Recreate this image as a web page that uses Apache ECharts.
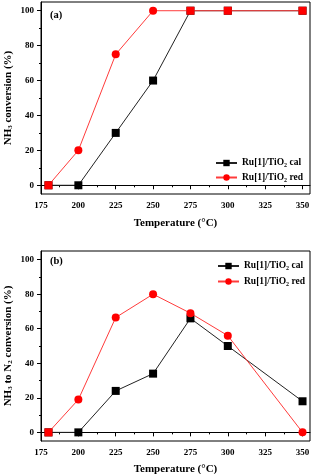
<!DOCTYPE html>
<html>
<head>
<meta charset="utf-8">
<script src="https://cdn.jsdelivr.net/npm/echarts@6/dist/echarts.min.js"></script>
<style>
  html, body { margin: 0; padding: 0; background: #fff; }
  #chart { width: 314px; height: 474px; }
</style>
</head>
<body>
<div id="chart"></div>
<script>
var temps = [180, 200, 225, 250, 275, 300, 350];
var convCal = [0, 0, 30, 60, 100, 100, 100];
var convRed = [0, 20, 75, 100, 100, 100, 100];
var n2Cal = [0, 0, 24, 34, 66, 50, 18];
var n2Red = [0, 19, 66.5, 80, 69, 56, 0];
var xTicks = [175, 200, 225, 250, 275, 300, 325, 350];
var xMinor = [187.5, 212.5, 237.5, 262.5, 287.5, 312.5, 337.5];
var yTicks = [0, 20, 40, 60, 80, 100];
var yMinor = [10, 30, 50, 70, 90];
var nameCal = 'Ru[1]/TiO2 cal';
var nameRed = 'Ru[1]/TiO2 red';

window.onload = function () {
  var font = 'Liberation Serif';
  var rich = {
    n: { fontFamily: font, fontWeight: 'bold', color: '#000', fontSize: 11, lineHeight: 12 },
    s: { fontFamily: font, fontWeight: 'bold', color: '#000', fontSize: 7, lineHeight: 7, verticalAlign: 'bottom' }
  };
  var legRich = {
    n: { fontFamily: font, fontWeight: 'bold', color: '#000', fontSize: 9.5, lineHeight: 11 },
    s: { fontFamily: font, fontWeight: 'bold', color: '#000', fontSize: 6, lineHeight: 6, verticalAlign: 'bottom' }
  };

  function pairs(ys) {
    return temps.map(function (t, i) { return [t, ys[i]]; });
  }
  // red marker drawn as square where it sits on a black one
  function redPairs(ys, other) {
    return temps.map(function (t, i) {
      var d = { value: [t, ys[i]] };
      if (ys[i] === other[i]) d.symbol = 'rect';
      return d;
    });
  }

  function xMain(gi, gap) {
    return {
      type: 'value', gridIndex: gi, min: 175, max: 355, position: 'bottom',
      name: 'Temperature (°C)', nameLocation: 'middle', nameGap: gap,
      nameTextStyle: { fontFamily: font, fontWeight: 'bold', fontSize: 11, color: '#000' },
      axisLine: { lineStyle: { color: '#000', width: 1 } },
      axisTick: { customValues: xTicks, length: 4, lineStyle: { color: '#000' } },
      axisLabel: { customValues: xTicks, margin: 7, fontFamily: font, fontWeight: 'bold', fontSize: 9, color: '#000' },
      splitLine: { show: false }
    };
  }
  function xMinorAxis(gi) {
    return {
      type: 'value', gridIndex: gi, min: 175, max: 355, position: 'bottom',
      axisLine: { show: false },
      axisTick: { customValues: xMinor, length: 2, lineStyle: { color: '#000' } },
      axisLabel: { show: false },
      splitLine: { show: false }
    };
  }
  function yMain(gi, title) {
    return {
      type: 'value', gridIndex: gi, min: -5, max: 105, position: 'left',
      name: title, nameLocation: 'middle', nameGap: 27, nameRotate: 90,
      nameMoveOverlap: false,
      nameTextStyle: { rich: rich },
      axisLine: { show: true, lineStyle: { color: '#000', width: 1 } },
      axisTick: { show: true, customValues: yTicks, length: 4, lineStyle: { color: '#000' } },
      axisLabel: { customValues: yTicks, margin: 7, fontFamily: font, fontWeight: 'bold', fontSize: 9, color: '#000' },
      splitLine: { show: false }
    };
  }
  function yMinorAxis(gi) {
    return {
      type: 'value', gridIndex: gi, min: -5, max: 105, position: 'left',
      axisLine: { show: false },
      axisTick: { show: true, customValues: yMinor, length: 2, lineStyle: { color: '#000' } },
      axisLabel: { show: false },
      splitLine: { show: false }
    };
  }

  function calSeries(xi, data) {
    return {
      name: nameCal, type: 'line', xAxisIndex: xi, yAxisIndex: xi,
      data: pairs(data), symbol: 'rect', symbolSize: 8,
      lineStyle: { color: '#222', width: 1 },
      itemStyle: { color: '#000' }, z: 2
    };
  }
  function redSeries(xi, data, other) {
    return {
      name: nameRed, type: 'line', xAxisIndex: xi, yAxisIndex: xi,
      data: redPairs(data, other), symbol: 'circle', symbolSize: 8,
      lineStyle: { color: '#ff3b3b', width: 1 },
      itemStyle: { color: '#ff0000' }, z: 3
    };
  }

  function legendFmt(name) {
    var parts = name.split('TiO2');
    return '{n|' + parts[0] + 'TiO}{s|2}{n|' + parts[1] + '}';
  }

  var option = {
    animation: false,
    backgroundColor: '#fff',
    grid: [
      { left: 41, top: 2, width: 269, height: 192, outerBoundsMode: 'none', show: true, borderColor: '#000', borderWidth: 1 },
      { left: 41, top: 251, width: 269, height: 190, outerBoundsMode: 'none', show: true, borderColor: '#000', borderWidth: 1 }
    ],
    xAxis: [xMain(0, 24), xMain(1, 23), xMinorAxis(0), xMinorAxis(1)],
    yAxis: [
      yMain(0, '{n|NH}{s|3}{n| conversion (%)}'),
      yMain(1, '{n|NH}{s|3}{n| to N}{s|2}{n| conversion (%)}'),
      yMinorAxis(0), yMinorAxis(1)
    ],
    legend: [
      {
        data: [nameCal, nameRed], orient: 'vertical', left: 210, top: 153,
        itemWidth: 21, itemHeight: 8, itemGap: 4, formatter: legendFmt,
        textStyle: { rich: legRich }
      },
      {
        data: [nameCal, nameRed], orient: 'vertical', left: 212, top: 256,
        itemWidth: 21, itemHeight: 8, itemGap: 5, formatter: legendFmt,
        textStyle: { rich: legRich }
      }
    ],
    graphic: [
      { type: 'text', left: 50, top: 10, style: { text: '(a)', font: 'bold 10.5px "Liberation Serif"', fill: '#000' } },
      { type: 'text', left: 50, top: 256, style: { text: '(b)', font: 'bold 10.5px "Liberation Serif"', fill: '#000' } }
    ],
    series: [
      calSeries(0, convCal),
      redSeries(0, convRed, convCal),
      calSeries(1, n2Cal),
      redSeries(1, n2Red, n2Cal)
    ]
  };

  echarts.init(document.getElementById('chart')).setOption(option);
};
</script>
</body>
</html>
